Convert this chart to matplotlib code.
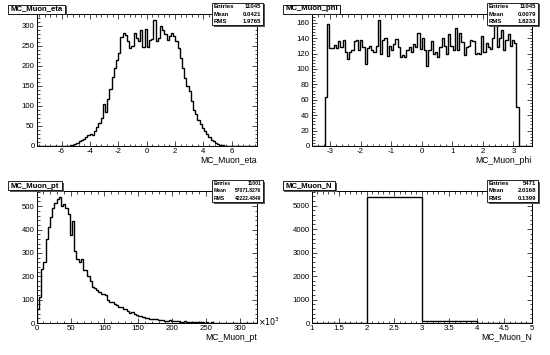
import numpy as np
import matplotlib
matplotlib.use('Agg')
import matplotlib.pyplot as plt
from matplotlib.patches import Rectangle
from matplotlib.ticker import MultipleLocator, AutoMinorLocator, FuncFormatter

plt.rcParams['font.family'] = ['Liberation Sans', 'DejaVu Sans']

W, H = 550, 355

# MC_Muon_eta : 100 bins in [-7.75, 7.75]
eta_range = (-7.75, 7.75)
eta_counts = [0] * 14 + [
    1, 2, 3, 5, 8, 12, 14, 18, 23, 28,
    30, 27, 38, 47, 58, 70, 104, 86, 118, 143,
    172, 195, 214, 232, 272, 282, 278, 262, 245, 250,
    282, 270, 262, 290, 248, 293, 248, 265, 268, 315,
    262, 270, 300, 290, 280, 266, 275, 283, 276, 262,
    245, 220, 196, 170, 150, 138, 112, 90, 80, 66,
    55, 45, 38, 30, 22, 16, 12, 8, 5, 3,
    2, 1, 1] + [0] * 13
eta_stats = [('Entries', '11045'), ('Mean', '0.0421'), ('RMS', '1.9765')]

# MC_Muon_phi : 100 bins in [-3.6, 3.6]
phi_range = (-3.6, 3.6)
phi_counts = [0] * 6 + [
    63, 158, 127, 127, 131, 127, 136, 128, 137, 122,
    113, 122, 124, 136, 138, 125, 138, 128, 106, 127,
    130, 125, 122, 130, 164, 120, 138, 140, 117, 130,
    125, 133, 139, 128, 116, 118, 115, 125, 128, 122,
    133, 128, 147, 126, 140, 125, 104, 125, 136, 120,
    122, 115, 128, 140, 130, 120, 145, 130, 125, 153,
    125, 147, 135, 118, 128, 130, 137, 136, 120, 121,
    120, 143, 122, 134, 128, 126, 140, 163, 128, 140,
    150, 125, 138, 145, 130, 138, 134, 50] + [0] * 6
phi_stats = [('Entries', '11045'), ('Mean', '0.0079'), ('RMS', '1.8233')]

# MC_Muon_pt : 100 bins in [0, 325] (x10^3)
pt_range = (0, 325)
pt_counts = [
    60, 110, 230, 260, 360, 410, 455, 490, 515, 530,
    540, 500, 510, 490, 465, 375, 435, 310, 275, 260,
    275, 225, 225, 200, 180, 155, 150, 140, 132, 125,
    122, 118, 100, 92, 90, 80, 75, 70, 68, 60,
    58, 50, 42, 48, 38, 35, 30, 28, 26, 22,
    20, 18, 17, 15, 17, 14, 12, 13, 10, 9,
    12, 8, 9, 7, 10, 6, 5, 7, 5, 4,
    5, 4, 3, 5, 3, 3, 2, 3, 2, 3,
    2, 2, 1, 2, 1, 2, 1, 1, 2, 1,
    1, 0, 1, 0, 1, 0, 1, 0, 0, 1]
pt_stats = [('Entries', '11001'), ('Mean', '57071.8276'), ('RMS', '42222.4849')]

# MC_Muon_N : 4 bins in [1, 5]
n_range = (1, 5)
n_counts = [0, 5379, 92, 0]
n_stats = [('Entries', '5471'), ('Mean', '2.0168'), ('RMS', '0.1399')]

fig = plt.figure(figsize=(5.5, 3.55), dpi=100)


def fig_rect(x0, y0, x1, y1, **kw):
    r = Rectangle((x0 / W, 1 - y1 / H), (x1 - x0) / W, (y1 - y0) / H,
                  transform=fig.transFigure, **kw)
    fig.add_artist(r)


def box(x0, y0, x1, y1):
    fig_rect(x0 + 1.5, y0 + 1.5, x1 + 1.5, y1 + 1.5, fc='#555555', ec='none', zorder=5)
    fig_rect(x0, y0, x1, y1, fc='white', ec='black', lw=0.6, zorder=6)


def draw_pad(ox, oy, counts, rng, name, stats, ymax, xmaj, ymaj, title_w, stat_fs=4.3):
    ax = fig.add_axes([(ox + 36.7) / W, 1 - (oy + 146) / H, 220 / W, 132.5 / H])
    edges = np.linspace(rng[0], rng[1], len(counts) + 1)
    ax.stairs(counts, edges, color='black', lw=1.0, baseline=0)
    ax.set_xlim(rng)
    ax.set_ylim(0, ymax)
    ax.xaxis.set_major_locator(MultipleLocator(xmaj))
    ax.yaxis.set_major_locator(MultipleLocator(ymaj))
    ax.xaxis.set_minor_locator(AutoMinorLocator(5))
    ax.yaxis.set_minor_locator(AutoMinorLocator(5))
    ax.xaxis.set_major_formatter(FuncFormatter(lambda v, p: '%g' % v))
    ax.yaxis.set_major_formatter(FuncFormatter(lambda v, p: '%g' % v))
    ax.tick_params(which='both', direction='in', top=True, right=True,
                   labelsize=5.6, width=0.5, pad=1.5)
    ax.tick_params(which='major', length=3.5)
    ax.tick_params(which='minor', length=1.8)
    for s in ax.spines.values():
        s.set_linewidth(0.7)

    # axis title
    fig.text((ox + 257) / W, 1 - (oy + 160) / H, name, ha='right', va='center', fontsize=6.2)

    # title box
    box(ox + 8, oy + 4.5, ox + 8 + title_w, oy + 13.5)
    fig.text((ox + 8 + title_w / 2) / W, 1 - (oy + 9) / H, name, ha='center', va='center',
             fontsize=5.6, fontweight='bold', zorder=7)

    # stats box
    box(ox + 212, oy + 3, ox + 263, oy + 25)
    for k, (lab, val) in enumerate(stats):
        y = oy + 6.7 + k * 7.3
        fig.text((ox + 214) / W, 1 - y / H, lab, ha='left', va='center',
                 fontsize=stat_fs, fontweight='bold', zorder=7)
        fig.text((ox + 261) / W, 1 - y / H, val, ha='right', va='center',
                 fontsize=stat_fs, fontweight='bold', zorder=7)
    return ax


draw_pad(0, 0, eta_counts, eta_range, 'MC_Muon_eta', eta_stats, 331, 2, 50, 57)
draw_pad(275, 0, phi_counts, phi_range, 'MC_Muon_phi', phi_stats, 172, 1, 20, 57)
draw_pad(0, 177, pt_counts, pt_range, 'MC_Muon_pt', pt_stats, 567, 50, 100, 54, stat_fs=3.6)
draw_pad(275, 177, n_counts, n_range, 'MC_Muon_N', n_stats, 5648, 0.5, 1000, 52)

fig.text(258 / W, 1 - 322 / H, r'$\times10^{3}$', ha='left', va='center', fontsize=5.8)

fig.savefig('out.png', dpi=100)
